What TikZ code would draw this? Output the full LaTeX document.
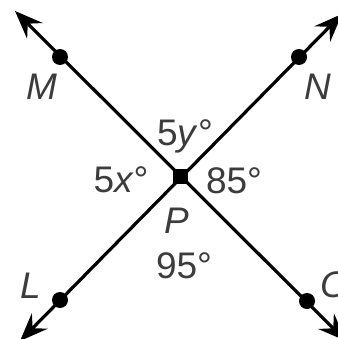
\documentclass[tikz,border=0pt]{standalone}
\usepackage{fontspec}
\setmainfont{Liberation Sans}
\usetikzlibrary{arrows.meta}
\definecolor{lblcol}{RGB}{60,60,60}
\begin{document}
\begin{tikzpicture}[x=1pt,y=-1pt,
  ln/.style={line width=3.2pt, black},
  tipboth/.style={ln, {Stealth[length=28pt,width=22pt,inset=10pt]}-{Stealth[length=28pt,width=22pt,inset=10pt]}},
  dotpt/.style={circle, fill=black, inner sep=0pt, minimum size=16pt},
  ctr/.style={rectangle, fill=black, inner sep=0pt, minimum size=15pt},
  lbl/.style={text=lblcol, font=\fontsize{37}{40}\selectfont, inner sep=0pt, anchor=base},
]
\useasboundingbox (0,0) rectangle (337,339);
% arrow tips
\coordinate (t1) at (15,11);
\coordinate (t2) at (346,341);
\coordinate (t3) at (342,14);
\coordinate (t4) at (20,341);
% lines
\draw[tipboth] (t1) -- (t2);
\draw[tipboth] (t4) -- (t3);
% points
\node[dotpt] (M) at (60,57) {};
\node[dotpt] (N) at (299,57) {};
\node[dotpt] (L) at (60,300) {};
\node[dotpt] (O) at (307,301) {};
\node[ctr] (P) at (180,176) {};
% labels
\node[lbl] (lM) at (42,100) {\textit{M}};
\node[lbl] (lN) at (318,100) {\textit{N}};
\node[lbl] (lL) at (31,298) {\textit{L}};
\node[lbl] (lO) at (335,297) {\textit{O}};
\node[lbl] (lP) at (177,233) {\textit{P}};
\node[lbl] (a1) at (185,145) {5\textit{y}°};
\node[lbl] (a2) at (121,192) {5\textit{x}°};
\node[lbl] (a3) at (234,193) {85°};
\node[lbl] (a4) at (184,278) {95°};
\end{tikzpicture}
\end{document}
